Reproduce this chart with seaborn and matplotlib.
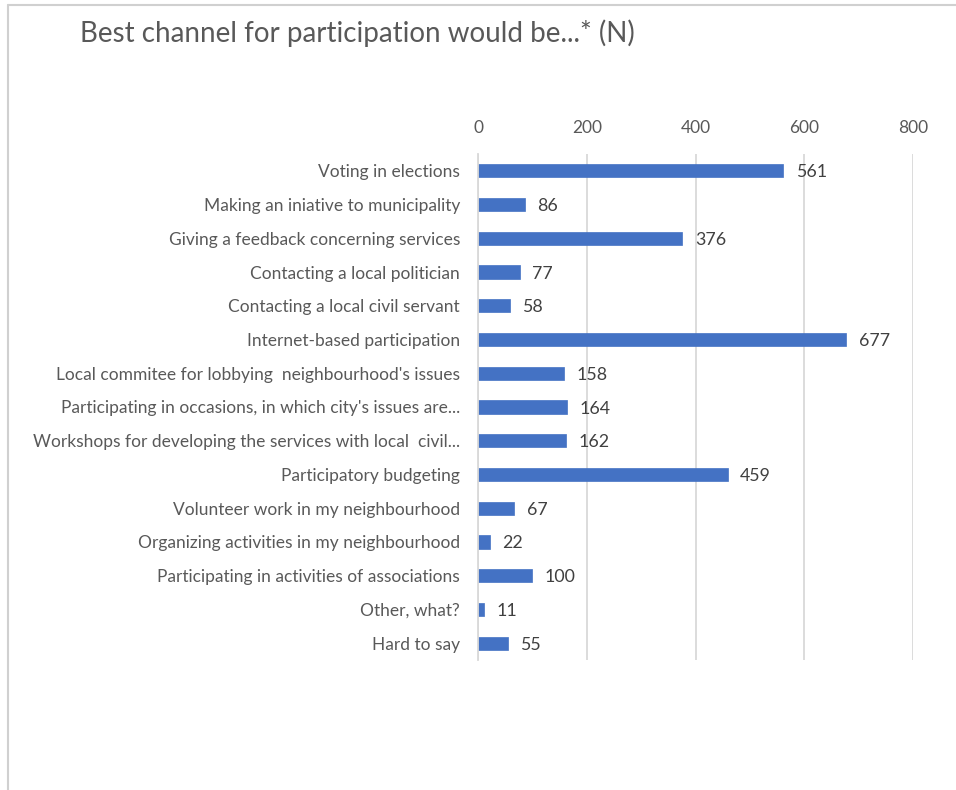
import matplotlib
matplotlib.use("Agg")
import matplotlib.pyplot as plt
import seaborn as sns
import pandas as pd
from matplotlib.lines import Line2D

categories = [
    "Voting in elections",
    "Making an iniative to municipality",
    "Giving a feedback concerning services",
    "Contacting a local politician",
    "Contacting a local civil servant",
    "Internet-based participation",
    "Local commitee for lobbying  neighbourhood's issues",
    "Participating in occasions, in which city's issues are...",
    "Workshops for developing the services with local  civil...",
    "Participatory budgeting",
    "Volunteer work in my neighbourhood",
    "Organizing activities in my neighbourhood",
    "Participating in activities of associations",
    "Other, what?",
    "Hard to say",
]
values = [561, 86, 376, 77, 58, 677, 158, 164, 162, 459, 67, 22, 100, 11, 55]
xticks = [0, 200, 400, 600, 800]
title = "Best channel for participation would be...* (N)"

df = pd.DataFrame({"category": categories, "N": values})

sns.set_theme(style="white")
plt.rcParams["font.family"] = ["Lato", "DejaVu Sans"]

text_color = "#595959"
bar_color = "#4472C4"
grid_color = "#D9D9D9"

fig = plt.figure(figsize=(9.56, 7.9), dpi=100)
ax = fig.add_axes([0.5, 1 - 660 / 790, (913 - 478) / 956, (660 - 154) / 790])

sns.barplot(data=df, x="N", y="category", orient="h", color=bar_color,
            width=0.39, ax=ax, saturation=1, edgecolor=bar_color, linewidth=0.5)

ax.set_xlim(0, 800)
ax.set_xticks(xticks)
ax.xaxis.tick_top()
ax.tick_params(axis="x", length=0, pad=13, labelsize=12.5, labelcolor=text_color)
ax.tick_params(axis="y", length=0, pad=13, labelsize=12.5, labelcolor=text_color)
ax.set_xlabel("")
ax.set_ylabel("")
ax.grid(axis="x", color=grid_color, linewidth=1.3)
ax.set_axisbelow(True)
for s in ["top", "right", "bottom"]:
    ax.spines[s].set_visible(False)
ax.spines["left"].set_color(grid_color)
ax.spines["left"].set_linewidth(1.3)

for cont in ax.containers:
    texts = ax.bar_label(cont, labels=[str(v) for v in values], padding=9,
                         fontsize=12.8, color="#404040")
    for t in texts:
        t.set_va("center_baseline")

fig.text(80 / 956, 1 - 33 / 790, title, fontsize=20, color=text_color,
         ha="left", va="center")

# chart border (top and left, as in cropped screenshot)
fig.add_artist(Line2D([8 / 956, 1], [1 - 5 / 790, 1 - 5 / 790],
                      transform=fig.transFigure, color="#D0D0D0", linewidth=1.5))
fig.add_artist(Line2D([8 / 956, 8 / 956], [0, 1 - 5 / 790],
                      transform=fig.transFigure, color="#D0D0D0", linewidth=1.5))

fig.savefig("out.png", dpi=100, facecolor="white")
